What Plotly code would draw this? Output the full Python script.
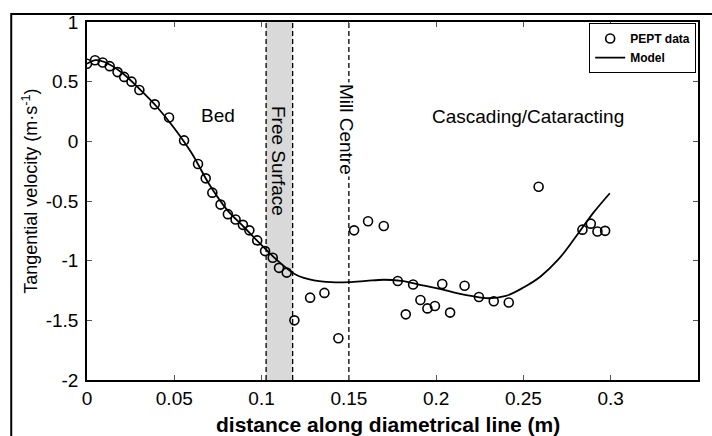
import plotly.graph_objects as go

# PEPT data (distance m, tangential velocity m/s)
pept_x = [0.0, 0.0046, 0.009, 0.013, 0.0175, 0.0213, 0.0255, 0.030, 0.0388, 0.047,
          0.0556, 0.0636, 0.068, 0.0718, 0.0765, 0.0807, 0.0851, 0.0893, 0.093, 0.0975,
          0.102, 0.1064, 0.110, 0.1144, 0.1188, 0.1278, 0.136, 0.144, 0.153, 0.161,
          0.170, 0.178, 0.1826, 0.1868, 0.191, 0.195, 0.1993, 0.2035, 0.208, 0.2163,
          0.2245, 0.233, 0.2416, 0.2587, 0.2838, 0.2886, 0.2924, 0.2968]
pept_y = [0.65, 0.68, 0.66, 0.63, 0.58, 0.54, 0.50, 0.43, 0.31, 0.20,
          0.008, -0.19, -0.31, -0.43, -0.53, -0.61, -0.655, -0.70, -0.746, -0.83,
          -0.92, -0.975, -1.06, -1.10, -1.50, -1.31, -1.27, -1.65, -0.746, -0.67,
          -0.71, -1.17, -1.45, -1.20, -1.33, -1.40, -1.38, -1.195, -1.435, -1.21,
          -1.305, -1.34, -1.35, -0.38, -0.74, -0.69, -0.755, -0.75]

# Model curve
model_x = [0.0, 0.005, 0.01, 0.02, 0.03, 0.04, 0.05, 0.06, 0.07, 0.08, 0.09, 0.10,
           0.11, 0.12, 0.13, 0.14, 0.15, 0.16, 0.17, 0.18, 0.19, 0.20, 0.21, 0.22,
           0.23, 0.24, 0.25, 0.26, 0.27, 0.28, 0.29, 0.2995]
model_y = [0.65, 0.68, 0.665, 0.575, 0.44, 0.29, 0.11, -0.10, -0.36, -0.57, -0.72, -0.87,
           -1.01, -1.12, -1.165, -1.18, -1.18, -1.17, -1.16, -1.17, -1.20, -1.23,
           -1.265, -1.295, -1.315, -1.295, -1.225, -1.13, -0.99, -0.80, -0.60, -0.435]

x_ticks = [0, 0.05, 0.1, 0.15, 0.2, 0.25, 0.3, 0.35]
x_tick_text = ["0", "0.05", "0.1", "0.15", "0.2", "0.25", "0.3", "0.35"]
y_ticks = [1, 0.5, 0, -0.5, -1, -1.5, -2]
y_tick_text = ["1", "0.5", "0", "-0.5", "-1", "-1.5", "-2"]

free_surface = [0.1026, 0.1178]
mill_centre = 0.150

FONT = "Liberation Sans, Arial, sans-serif"

fig = go.Figure()
fig.add_trace(go.Scatter(
    x=pept_x, y=pept_y, mode="markers", name="<b>PEPT data</b>",
    marker=dict(symbol="circle-open", size=9, color="black", line=dict(width=1.6, color="black")),
))
fig.add_trace(go.Scatter(
    x=model_x, y=model_y, mode="lines", name="<b>Model</b>", line_shape="spline",
    line=dict(color="black", width=1.8),
))

# free surface band
fig.add_shape(type="rect", xref="x", yref="paper", x0=free_surface[0], x1=free_surface[1],
              y0=0, y1=1, fillcolor="#d9d9d9", line_width=0, layer="below")
for xv in free_surface + [mill_centre]:
    fig.add_shape(type="line", xref="x", yref="paper", x0=xv, x1=xv, y0=0, y1=1,
                  line=dict(color="black", width=1.3, dash="5px,3px"), layer="below")

# outer frame
fig.add_shape(type="rect", xref="paper", yref="paper", x0=-0.124, x1=1.08, y0=-0.19, y1=1.022,
              line=dict(color="black", width=2), fillcolor="rgba(0,0,0,0)")

ann = dict(showarrow=False, xanchor="center", yanchor="middle",
           font=dict(family=FONT, size=19, color="black"))
fig.add_annotation(x=0.0748, y=0.215, text="Bed", **ann)
fig.add_annotation(x=0.2527, y=0.207, text="Cascading/Cataracting", **ann)
fig.add_annotation(x=0.110, y=-0.165, text="Free Surface", textangle=90, **ann)
fig.add_annotation(x=0.149, y=0.103, text="Mill Centre", textangle=90, bgcolor="white", **ann)

# axis titles
fig.add_annotation(xref="paper", yref="paper", x=(389 - 87) / 613, y=(380 - 425) / 363,
                   xanchor="center", yanchor="middle",
                   text="<b>distance along diametrical line (m)</b>", showarrow=False,
                   font=dict(family=FONT, size=21, color="black"))
fig.add_annotation(xref="paper", yref="paper", x=(30 - 87) / 613, y=(380 - 189) / 363,
                   xanchor="center", yanchor="middle",
                   text="Tangential velocity (m·s<sup>-1</sup>)", textangle=-90, showarrow=False,
                   font=dict(family=FONT, size=18, color="black"))

axis_common = dict(showline=True, linecolor="black", linewidth=1.6, mirror="ticks",
                   ticks="inside", ticklen=5, tickwidth=1, tickcolor="#555",
                   showgrid=False, zeroline=False,
                   tickfont=dict(family=FONT, size=19, color="black"))
fig.update_xaxes(range=[0, 0.35], tickvals=x_ticks, ticktext=x_tick_text, **axis_common)
fig.update_yaxes(range=[-2, 1], tickvals=y_ticks, ticktext=y_tick_text,
                 ticklabelstandoff=3, **axis_common)

fig.update_layout(
    width=712, height=436,
    margin=dict(l=87, r=12, t=17, b=56),
    paper_bgcolor="white", plot_bgcolor="white",
    showlegend=True,
    legend=dict(x=0.997, y=0.997, xanchor="right", yanchor="top",
                bordercolor="black", borderwidth=1, bgcolor="white",
                font=dict(family=FONT, size=12, color="black"),
                itemwidth=30, tracegroupgap=0),
)

fig.write_html("out.html")
